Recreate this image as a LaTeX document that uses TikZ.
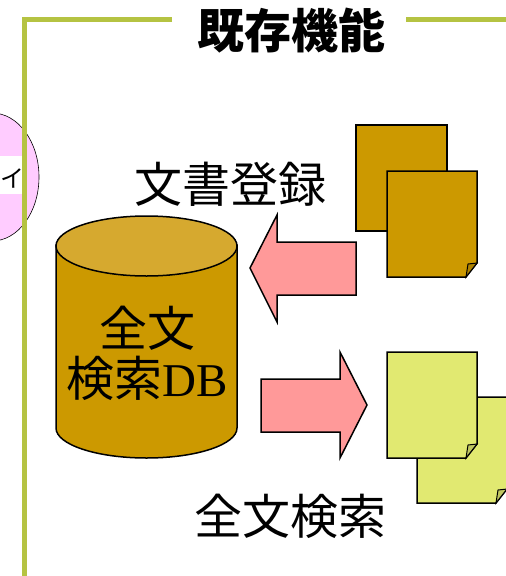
\documentclass[tikz,border=0pt]{standalone}
\usepackage{fontspec}
\setmainfont{Liberation Serif}
\newfontfamily\cjk{Noto Sans CJK JP}
\usetikzlibrary{positioning}
\definecolor{framegreen}{HTML}{B5C342}
\definecolor{dbbrown}{HTML}{CC9900}
\definecolor{dbtop}{HTML}{D6A92F}
\definecolor{arrowpink}{HTML}{FF9999}
\definecolor{docyellow}{HTML}{E1E971}
\definecolor{circlepink}{HTML}{FFCCFF}
\tikzset{
  frameline/.style={line width=5pt,framegreen},
  outline/.style={draw=black,line width=1.5pt,line join=miter},
  biglabel/.style={font=\cjk\fontsize{48}{50}\selectfont,inner sep=0pt},
  doc/.pic={
    \draw[outline,fill=#1] (0,0) -- (90,0) -- (90,92) -- (79,106) -- (0,106) -- cycle;
    \draw[line width=1pt,fill=#1!85!black] (79,106) -- (81,93) -- (90,92) -- cycle;
  }
}
\begin{document}
\begin{tikzpicture}[x=1pt,y=-1pt]
\useasboundingbox (0,0) rectangle (506,576);
% circle on the left
\draw[line width=0.6pt,fill=circlepink] (-8,177) ellipse (47 and 64);
\fill[white] (0,156) rectangle (24,194);
\node[font=\cjk\fontsize{24}{26}\selectfont,inner sep=0pt] (circlelabel) at (12,178) {イ};
% frame
\draw[frameline] (172,19) -- (24,19) -- (24,576);
\draw[frameline] (406,19) -- (506,19);
\node[biglabel,font=\cjk\bfseries\fontsize{47}{50}\selectfont] (title) at (291,31) {既存機能};
% database
\draw[outline,fill=dbbrown] (56,245) -- (56,428) arc[start angle=180,end angle=0,x radius=90.5,y radius=30] -- (237,245) -- cycle;
\draw[outline,fill=dbtop] (146.5,246) ellipse (90.5 and 30);
\node[biglabel,align=center] (dblabel) at (147,353) {全文\\検索{\rmfamily\fontsize{47}{50}\selectfont DB}};
% documents
\draw[outline,fill=dbbrown] (356,125) rectangle (447,231);
\pic at (387,171) {doc=dbbrown};
\draw[outline,fill=docyellow] (417,397) -- (507,397) -- (507,489) -- (496,503) -- (417,503) -- cycle;
\draw[line width=1pt,fill=docyellow!85!black] (496,503) -- (498,490) -- (507,489) -- cycle;
\pic at (387,352) {doc=docyellow};
% arrows
\draw[outline,fill=arrowpink] (356,242) -- (277,242) -- (277,215) -- (250,268) -- (277,322) -- (277,295) -- (356,295) -- cycle;
\draw[outline,fill=arrowpink] (261,379) -- (340,379) -- (340,352) -- (367,405) -- (340,458) -- (340,432) -- (261,432) -- cycle;
% labels
\node[biglabel] (register) at (230,184) {文書登録};
\node[biglabel] (search) at (290,516) {全文検索};
\end{tikzpicture}
\end{document}
